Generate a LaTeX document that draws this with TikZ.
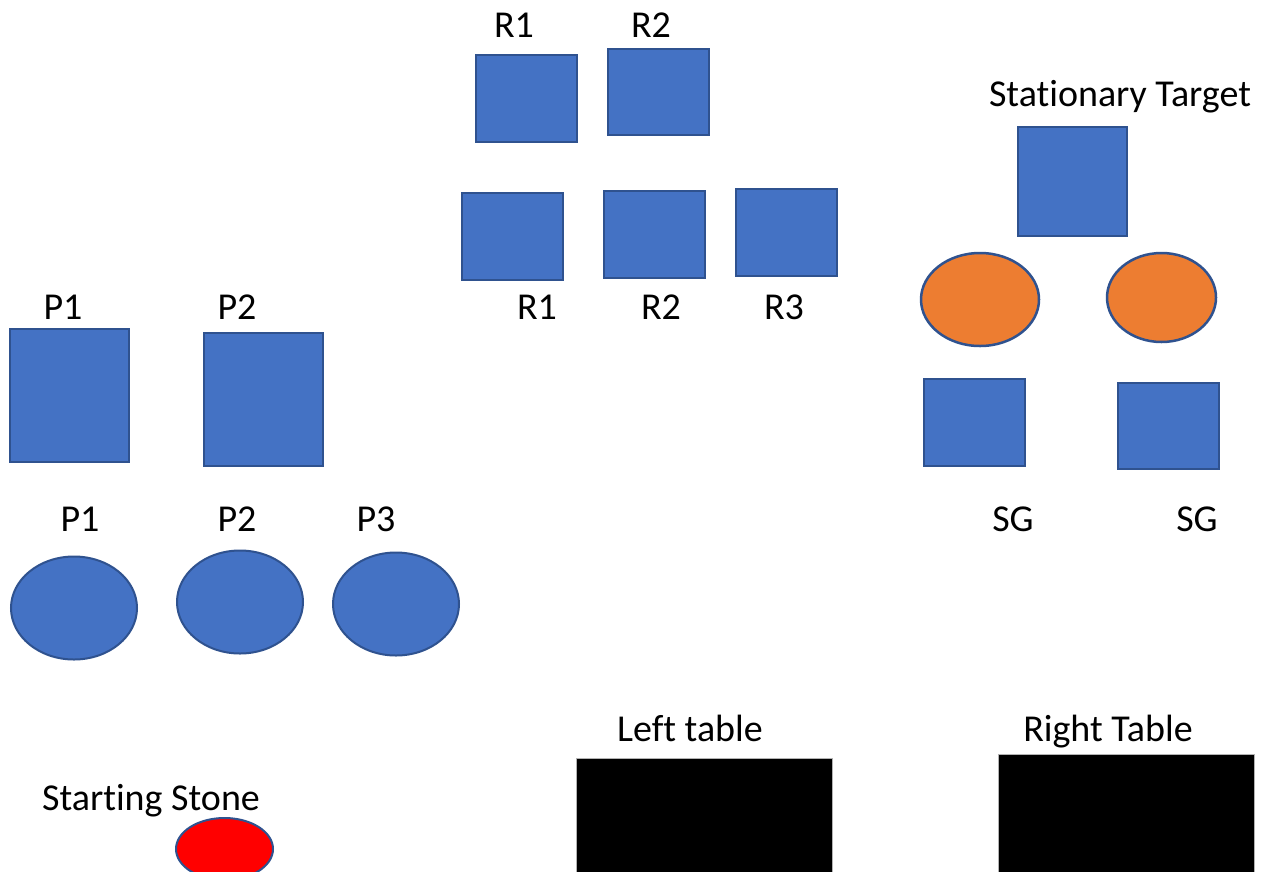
\documentclass[tikz,border=0pt]{standalone}
\usepackage{fontspec}
\setmainfont{Carlito}[Ligatures=NoCommon]
\usetikzlibrary{shapes.geometric}
\definecolor{bfill}{HTML}{4472C4}
\definecolor{bline}{HTML}{2F528F}
\definecolor{ofill}{HTML}{ED7D31}
\begin{document}
\begin{tikzpicture}[x=1pt,y=-1pt,
  bluebox/.style={rectangle,draw=bline,fill=bfill,line width=2.5pt,inner sep=0pt},
  blueell/.style={ellipse,draw=bline,fill=bfill,line width=2pt,inner sep=0pt},
  orell/.style={ellipse,draw=bline,fill=ofill,line width=2.5pt,inner sep=0pt},
  redell/.style={ellipse,draw=bline,fill=red,line width=2pt,inner sep=0pt},
  tablebox/.style={rectangle,fill=black,draw=gray!60,line width=0.6pt,inner sep=0pt},
  lbl/.style={anchor=base,inner sep=0pt,font=\fontsize{38}{42}\selectfont}]
\useasboundingbox (0,0) rectangle (1265,871);
\clip (0,0) rectangle (1265,871);
\fill[white] (0,0) rectangle (1265,871);
% R group
\node[lbl] (lr1a) at (514,37) {R1};
\node[lbl] (lr2a) at (651,37) {R2};
\node[bluebox,minimum width=101pt,minimum height=87pt] (r1a) at (526.5,98.5) {};
\node[bluebox,minimum width=101pt,minimum height=86pt] (r2a) at (658.5,92) {};
\node[bluebox,minimum width=101pt,minimum height=87pt] (r1b) at (512.5,236.5) {};
\node[bluebox,minimum width=101pt,minimum height=87pt] (r2b) at (654.5,234.5) {};
\node[bluebox,minimum width=101pt,minimum height=87pt] (r3b) at (786.5,232.5) {};
\node[lbl] (lr1b) at (537,319) {R1};
\node[lbl] (lr2b) at (661,319) {R2};
\node[lbl] (lr3b) at (784,319) {R3};
% Stationary target
\node[lbl] (lst) at (1120,106) {Stationary Target};
\node[bluebox,minimum width=109pt,minimum height=109pt] (st) at (1072.5,181.5) {};
\node[orell,minimum width=118pt,minimum height=93pt] (o1) at (980,299.5) {};
\node[orell,minimum width=109pt,minimum height=89pt] (o2) at (1161.5,297.5) {};
\node[bluebox,minimum width=101pt,minimum height=87pt] (sg1) at (974.5,422.5) {};
\node[bluebox,minimum width=101pt,minimum height=86pt] (sg2) at (1168.5,426) {};
\node[lbl] (lsg1) at (1013,531) {SG};
\node[lbl] (lsg2) at (1197,531) {SG};
% P group
\node[lbl] (lp1a) at (63,319) {P1};
\node[lbl] (lp2a) at (237,319) {P2};
\node[bluebox,minimum width=119pt,minimum height=133pt] (p1a) at (69.5,395.5) {};
\node[bluebox,minimum width=119pt,minimum height=133pt] (p2a) at (263.5,399.5) {};
\node[lbl] (lp1b) at (80,531) {P1};
\node[lbl] (lp2b) at (237,531) {P2};
\node[lbl] (lp3b) at (376,531) {P3};
\node[blueell,minimum width=126pt,minimum height=103pt] (p1b) at (74,608) {};
\node[blueell,minimum width=126pt,minimum height=103pt] (p2b) at (240,602) {};
\node[blueell,minimum width=126pt,minimum height=103pt] (p3b) at (396,604) {};
% tables
\node[lbl] (llt) at (690,741) {Left table};
\node[tablebox,minimum width=256pt,minimum height=130pt] (lt) at (704,823) {};
\node[lbl] (lrt) at (1108,741) {Right Table};
\node[tablebox,minimum width=256pt,minimum height=134pt] (rt) at (1126,821) {};
% starting stone
\node[lbl] (lss) at (151,810) {Starting Stone};
\node[redell,minimum width=97pt,minimum height=62pt] (ss) at (224.5,849) {};
\end{tikzpicture}
\end{document}
